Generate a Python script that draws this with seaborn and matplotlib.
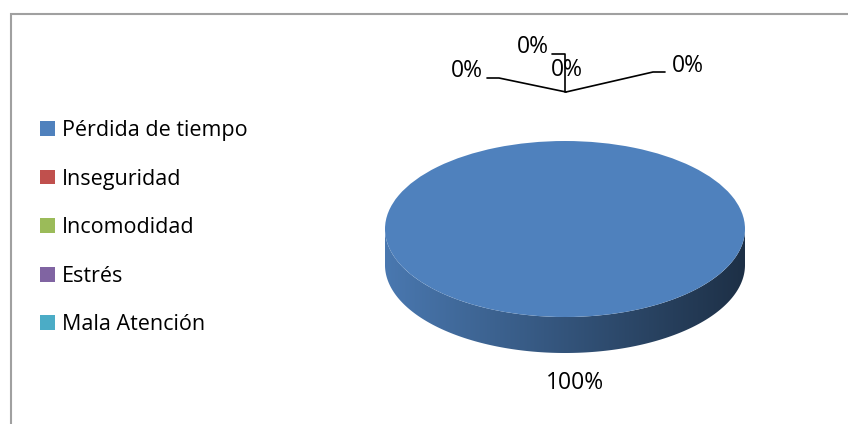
import numpy as np
import matplotlib.pyplot as plt
import matplotlib.colors as mcolors
from matplotlib.patches import Polygon, Rectangle
import seaborn as sns

# data
categories = ["Pérdida de tiempo", "Inseguridad", "Incomodidad", "Estrés", "Mala Atención"]
values = [100, 0, 0, 0, 0]
colors = ["#4f81bd", "#c0504d", "#9bbb59", "#8064a2", "#4bacc6"]
pct_labels = [f"{v:.0f}%" for v in values]

sns.set_theme(style="white")
plt.rcParams['font.family'] = ['Open Sans', 'DejaVu Sans']
plt.rcParams['text.color'] = 'black'

W, H = 848, 424
fig = plt.figure(figsize=(W / 100, H / 100), dpi=100)
ax = fig.add_axes([0, 0, 1, 1])

# pie geometry in pixels: centre of top face, radii, thickness
cx, cy, rx, ry, depth = 565, 229, 180, 88, 36
d = depth / ry


def to_data(px, py):
    return (px - cx) / rx, (cy - py) / ry


wedges, _ = ax.pie(values, colors=colors, startangle=90, counterclock=False,
                   radius=1, wedgeprops=dict(linewidth=0), normalize=True)
for w in wedges:
    w.set_zorder(3)

# side of the 3D pie, one band per visible (front) part of each wedge
for w, col in zip(wedges, colors):
    if abs(w.theta2 - w.theta1) < 1e-6:
        continue
    t = np.radians(np.linspace(w.theta1, w.theta2, 721))
    front = np.sin(t) <= 1e-9
    runs, cur = [], []
    for ti, f in zip(t, front):
        if f:
            cur.append(ti)
        elif cur:
            runs.append(cur)
            cur = []
    if cur:
        runs.append(cur)
    base = np.array(mcolors.to_rgb(col))
    shade = np.linspace(0.93, 0.37, 256)
    grad = (base[None, :] * shade[:, None])[None, :, :]
    for r in runs:
        r = np.array(r)
        top = np.column_stack([np.cos(r), np.sin(r)])
        bot = np.column_stack([np.cos(r[::-1]), np.sin(r[::-1]) - d])
        poly = Polygon(np.vstack([top, bot]), closed=True, facecolor="none",
                       edgecolor="none")
        ax.add_patch(poly)
        im = ax.imshow(grad, extent=[-1, 1, -1 - d, 0], aspect="auto",
                       zorder=2, interpolation="bilinear")
        im.set_clip_path(poly)

ax.set_aspect("auto")
x0, y0 = to_data(0, H)
x1, y1 = to_data(W, 0)
ax.set_xlim(x0, x1)
ax.set_ylim(y0, y1)
ax.axis("off")

# data labels (Excel-style placement)
label_pos = [(575, 383), (467, 71), (533, 47), (567, 70), (688, 66)]
for txt, (px, py) in zip(pct_labels, label_pos):
    x, y = to_data(px, py)
    ax.text(x, y, txt, ha="center", va="center", fontsize=16.5, color="black", zorder=5)

# leader lines for the 0% labels
leaders = [
    [(487, 78), (499, 78), (566, 92)],
    [(552, 54), (565, 54), (565, 92)],
    [(665, 72), (653, 72), (566, 92)],
]
for pts in leaders:
    xy = np.array([to_data(*p) for p in pts])
    ax.plot(xy[:, 0], xy[:, 1], color="black", lw=1.2, zorder=4)

fig.legend(wedges, categories, loc="upper left", bbox_to_anchor=(40 / W, 1 - 120 / H),
           frameon=False, fontsize=15.5, handlelength=0.68, handleheight=0.68,
           handletextpad=0.33, labelspacing=1.28, borderpad=0, borderaxespad=0,
           labelcolor="black")

# outer chart frame
fig.patches.append(Rectangle((11 / W, -0.1), 1.0, (H - 14) / H + 0.1,
                             transform=fig.transFigure, fill=False,
                             edgecolor="#a0a0a0", lw=1.5))

fig.savefig("out.png", dpi=100)
